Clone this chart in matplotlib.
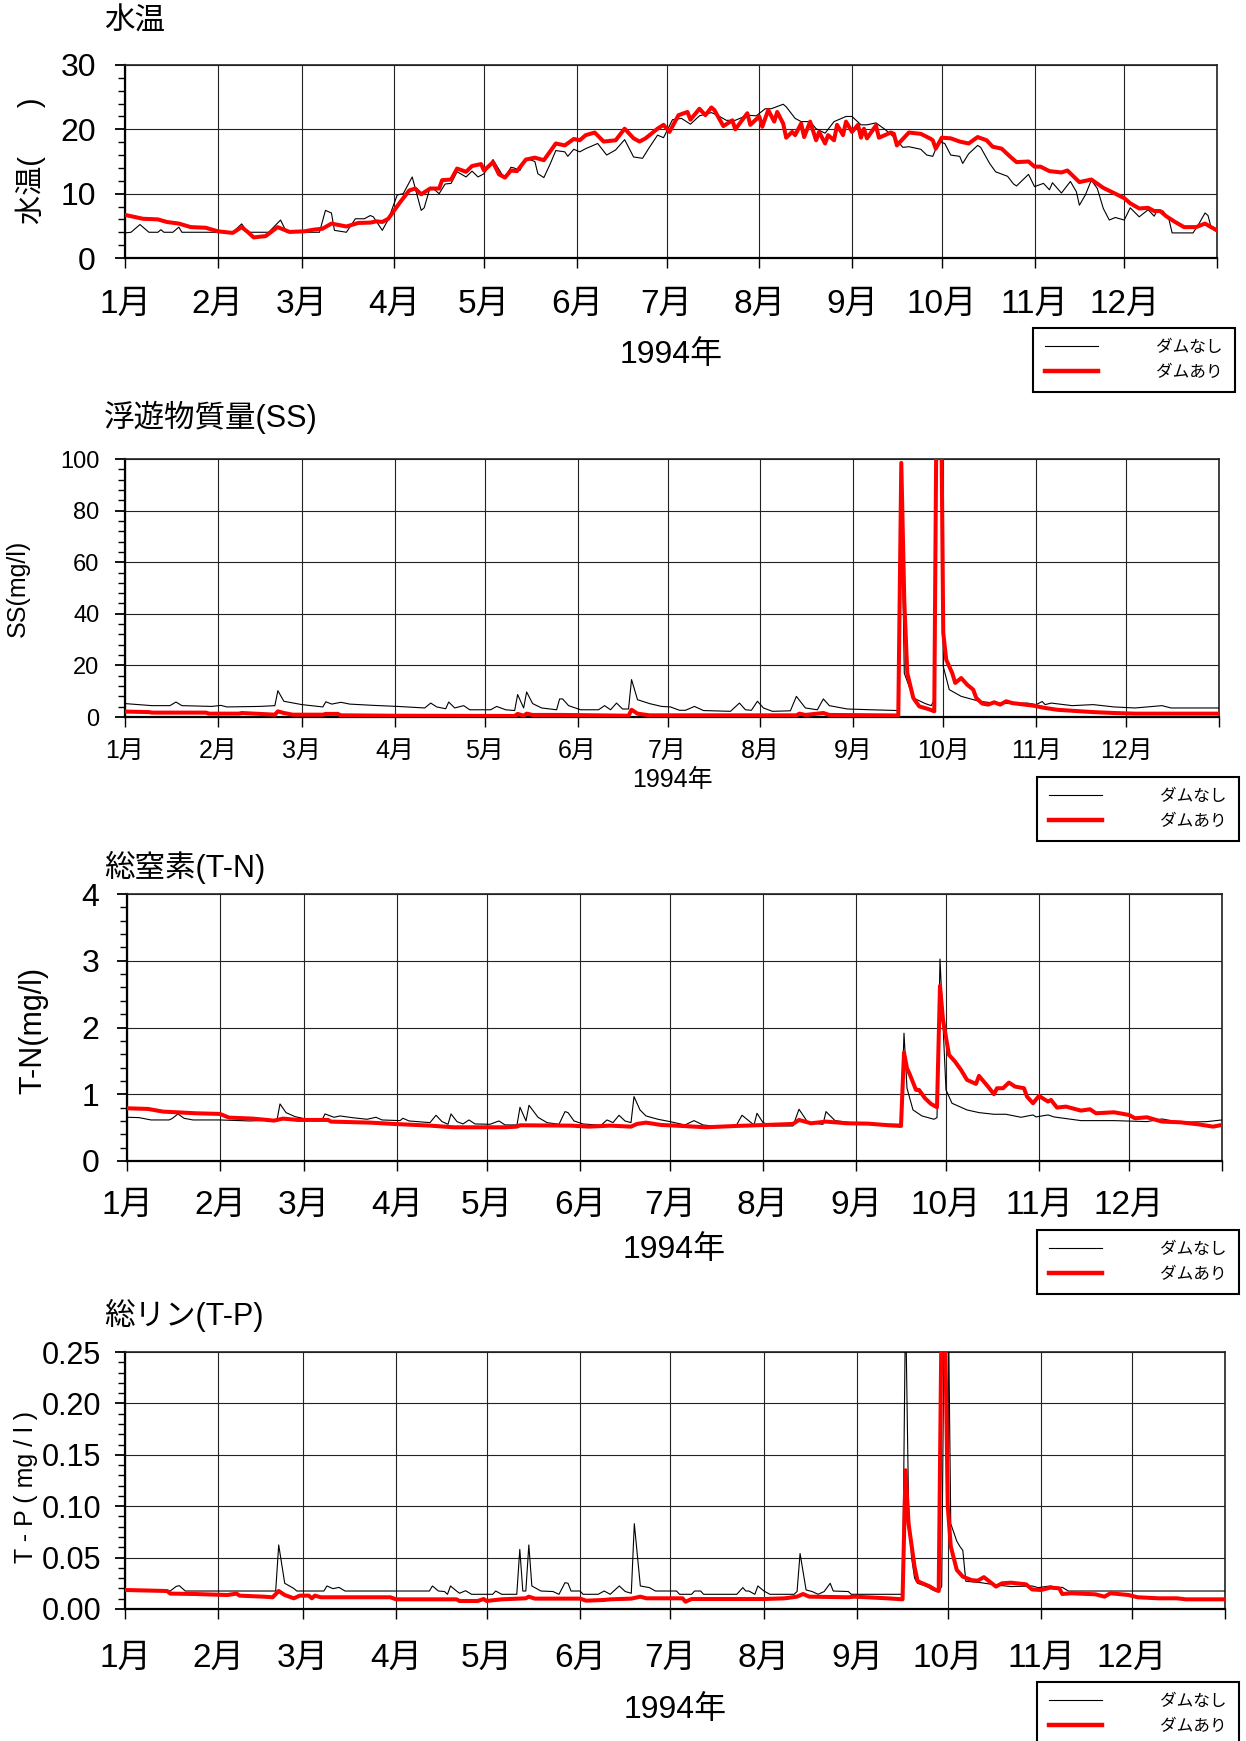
import numpy as np
import matplotlib.pyplot as plt
from matplotlib.ticker import MultipleLocator, FormatStrFormatter
from matplotlib.lines import Line2D

plt.rcParams['font.family'] = ['Liberation Sans', 'Noto Sans CJK JP']

W, H = 1246, 1741

months = ["1月", "2月", "3月", "4月", "5月", "6月",
          "7月", "8月", "9月", "10月", "11月", "12月"]
month_start = [0, 31, 59, 90, 120, 151, 181, 212, 243, 273, 304, 334]
legend_labels = ["ダムなし", "ダムあり"]

# (day of year, value)
wt_nodam = [(0, 3.9), (2, 4.0), (5, 5.2), (8, 4.0), (11, 4.0), (12, 4.4), (13, 4.0), (16, 4.0),
            (18, 4.8), (19, 4.0), (36, 4.0), (39, 5.3), (41, 4.0), (48, 4.0), (52, 5.9), (54, 4.0),
            (65, 4.0), (67, 7.4), (69, 7.0), (70, 4.3), (74, 4.0), (77, 6.1), (80, 6.1), (82, 6.6),
            (83, 6.4), (86, 4.3), (88, 6.0), (91, 9.8), (93, 10.0), (96, 12.6), (99, 7.4), (100, 7.8),
            (102, 11.0), (103, 10.8), (105, 10.0), (107, 11.5), (109, 11.6), (111, 13.4), (114, 12.6),
            (116, 13.5), (118, 12.6), (120, 13.1), (123, 15.3), (126, 13.0), (127, 12.6), (129, 14.1),
            (130, 14.0), (132, 13.6), (134, 15.5), (137, 15.0), (138, 13.1), (140, 12.5), (142, 14.5),
            (144, 16.7), (147, 16.5), (148, 15.8), (150, 16.9), (152, 16.5), (154, 17.0), (158, 17.8),
            (161, 16.0), (164, 16.8), (167, 18.4), (170, 15.7), (173, 15.5), (175, 17.0), (178, 19.1),
            (180, 18.7), (183, 21.5), (186, 21.7), (189, 20.8), (192, 22.1), (196, 22.6), (198, 22.2),
            (201, 21.4), (204, 21.4), (208, 22.2), (211, 22.1), (214, 23.2), (216, 23.2), (220, 23.9),
            (221, 23.5), (224, 21.7), (226, 21.2), (229, 21.2), (231, 20.1), (234, 19.4), (237, 21.2),
            (241, 22.0), (243, 22.0), (246, 20.7), (248, 20.7), (251, 21.0), (254, 20.0), (257, 18.8),
            (260, 17.2), (262, 17.3), (266, 16.9), (268, 16.0), (270, 15.8), (272, 18.1), (274, 17.8),
            (276, 16.0), (279, 15.8), (280, 14.7), (282, 16.2), (285, 17.5), (286, 17.2), (289, 14.7),
            (291, 13.4), (295, 12.7), (297, 11.5), (298, 11.2), (302, 13.0), (304, 11.1), (307, 11.6),
            (309, 10.6), (310, 11.7), (313, 10.1), (316, 11.9), (318, 10.3), (319, 8.2), (321, 9.8),
            (323, 12.1), (325, 10.8), (327, 7.7), (329, 5.9), (331, 6.3), (334, 5.9), (336, 7.8),
            (339, 6.4), (342, 7.5), (344, 6.5), (345, 7.4), (347, 7.3), (349, 5.9), (350, 3.9),
            (357, 3.9), (359, 5.35), (361, 7.0), (362, 6.6), (363, 4.8), (365, 4.05)]
wt_dam = [(0, 6.7), (6, 6.1), (11, 6.0), (14, 5.6), (18, 5.35), (22, 4.8), (27, 4.7), (31, 4.15),
          (36, 3.9), (39, 4.8), (41, 4.05), (43, 3.2), (47, 3.4), (51, 4.8), (55, 4.05), (60, 4.15),
          (63, 4.4), (66, 4.55), (69, 5.35), (74, 4.9), (78, 5.45), (82, 5.5), (84, 5.7), (86, 5.6),
          (88, 6.1), (92, 8.7), (95, 10.5), (97, 10.8), (99, 9.9), (102, 10.8), (105, 10.8), (106, 12.1),
          (109, 12.2), (111, 13.9), (114, 13.4), (116, 14.3), (119, 14.6), (120, 13.6), (123, 14.9),
          (125, 13.0), (127, 12.5), (129, 13.6), (131, 13.5), (134, 15.3), (137, 15.6), (140, 15.2),
          (144, 17.8), (147, 17.5), (150, 18.5), (152, 18.3), (154, 19.1), (157, 19.5), (160, 18.1),
          (164, 18.3), (167, 20.1), (170, 18.6), (172, 18.1), (174, 18.6), (178, 20.1), (180, 20.7),
          (182, 19.6), (185, 22.2), (188, 22.7), (189, 21.5), (192, 23.2), (194, 22.2), (196, 23.4),
          (197, 23.0), (200, 20.5), (203, 21.4), (204, 20.0), (208, 22.5), (209, 20.7), (212, 22.0),
          (213, 20.4), (215, 23.0), (217, 21.2), (218, 22.7), (220, 20.9), (221, 18.7), (223, 19.6),
          (224, 19.1), (226, 20.9), (227, 18.8), (229, 21.2), (231, 18.3), (232, 19.6), (234, 17.8),
          (235, 19.1), (237, 18.3), (238, 20.7), (240, 19.1), (241, 21.2), (243, 19.6), (245, 20.7),
          (246, 18.7), (247, 20.1), (248, 18.6), (251, 20.6), (252, 18.7), (256, 19.5), (257, 19.3),
          (258, 17.5), (262, 19.5), (266, 19.3), (269, 18.6), (270, 18.3), (271, 17.0), (273, 18.7),
          (276, 18.6), (279, 18.1), (282, 17.8), (285, 18.8), (288, 18.3), (290, 17.3), (293, 17.0),
          (296, 15.7), (298, 14.9), (302, 15.0), (304, 14.2), (306, 14.2), (309, 13.5), (313, 13.3),
          (315, 13.6), (319, 11.8), (323, 12.2), (327, 10.9), (331, 10.0), (334, 9.3), (336, 8.5),
          (339, 7.7), (342, 7.8), (344, 7.3), (346, 7.3), (348, 6.5), (351, 5.6), (354, 4.8),
          (358, 4.8), (361, 5.35), (363, 4.8), (365, 4.3)]

ss_nodam = [(0, 5.2), (9, 4.4), (15, 4.4), (17, 5.8), (19, 4.4), (29, 4.1), (32, 4.5), (34, 3.9),
            (45, 4.1), (50, 4.4), (51, 10.2), (53, 6.1), (59, 4.8), (66, 3.9), (67, 5.9), (69, 5.0),
            (72, 5.7), (75, 5.0), (83, 4.5), (91, 4.1), (100, 3.5), (102, 5.4), (104, 3.9), (107, 3.2),
            (108, 5.8), (110, 3.5), (113, 4.4), (115, 2.8), (122, 2.8), (124, 4.1), (127, 2.8),
            (130, 2.5), (131, 8.7), (133, 3.5), (134, 9.7), (136, 5.2), (139, 3.5), (144, 2.8),
            (145, 7.0), (146, 7.0), (148, 4.4), (152, 2.8), (158, 2.8), (160, 4.4), (162, 2.8),
            (164, 5.4), (166, 3.1), (168, 3.1), (169, 14.5), (171, 6.7), (175, 5.2), (179, 4.1),
            (182, 3.9), (185, 2.6), (187, 2.6), (190, 4.1), (193, 2.5), (202, 2.2), (205, 5.4),
            (207, 2.8), (209, 2.6), (211, 6.1), (213, 3.5), (216, 2.2), (222, 2.4), (224, 8.0),
            (227, 3.5), (231, 2.8), (233, 7.0), (235, 4.4), (241, 3.1), (249, 2.8), (258, 2.5),
            (259, 92.0), (260, 17.0), (263, 7.4), (267, 5.2), (269, 4.4), (270, 6.7), (271, 130.0),
            (272, 160.0), (273, 19.6), (275, 10.6), (279, 8.0), (285, 6.1), (290, 5.4), (296, 5.2),
            (301, 5.4), (304, 4.8), (306, 6.0), (307, 4.8), (309, 5.4), (316, 4.4), (323, 4.8),
            (330, 3.9), (337, 3.5), (346, 4.4), (349, 3.5), (365, 3.5)]
ss_dam = [(0, 2.1), (8, 1.9), (9, 1.7), (27, 1.7), (28, 1.3), (38, 1.3), (39, 1.55), (50, 0.9),
          (51, 2.2), (53, 1.55), (56, 0.9), (66, 0.9), (67, 1.2), (71, 1.2), (72, 0.65), (90, 0.5),
          (130, 0.4), (131, 1.2), (133, 0.5), (134, 1.3), (136, 0.8), (146, 0.8), (168, 0.5),
          (169, 2.8), (171, 1.3), (175, 0.65), (224, 0.65), (225, 1.3), (227, 0.8), (233, 1.55),
          (235, 0.8), (258, 0.6), (259, 98.5), (260, 45.0), (261, 17.0), (263, 7.4), (265, 4.1),
          (268, 3.1), (270, 2.2), (271, 160.0), (272, 160.0), (273, 32.6), (274, 22.2), (276, 17.0),
          (277, 13.2), (279, 15.1), (281, 12.5), (283, 10.6), (284, 7.4), (286, 5.2), (288, 4.8),
          (290, 5.7), (292, 4.8), (294, 6.1), (296, 5.4), (303, 4.4), (307, 3.5), (311, 2.8),
          (323, 1.9), (330, 1.55), (337, 1.3), (365, 1.3)]

tn_nodam = [(0, 0.655), (4, 0.65), (8, 0.615), (14, 0.615), (15, 0.635), (17, 0.705), (19, 0.64),
            (22, 0.615), (31, 0.615), (41, 0.60), (50, 0.615), (51, 0.855), (53, 0.725), (56, 0.665),
            (59, 0.635), (65, 0.615), (66, 0.705), (69, 0.655), (71, 0.675), (75, 0.65), (80, 0.625),
            (83, 0.655), (85, 0.615), (91, 0.605), (92, 0.64), (94, 0.60), (101, 0.575), (103, 0.685),
            (105, 0.59), (107, 0.55), (108, 0.705), (110, 0.59), (112, 0.555), (114, 0.615),
            (116, 0.555), (121, 0.55), (124, 0.60), (126, 0.54), (130, 0.54), (131, 0.805),
            (133, 0.60), (134, 0.835), (137, 0.655), (140, 0.575), (144, 0.55), (146, 0.74),
            (147, 0.725), (149, 0.60), (152, 0.555), (158, 0.535), (160, 0.615), (162, 0.575),
            (164, 0.685), (166, 0.60), (168, 0.575), (169, 0.965), (171, 0.765), (173, 0.675),
            (177, 0.625), (181, 0.59), (186, 0.54), (189, 0.605), (192, 0.54), (195, 0.525),
            (203, 0.525), (205, 0.685), (209, 0.54), (210, 0.715), (212, 0.575), (215, 0.525),
            (222, 0.525), (224, 0.775), (227, 0.575), (232, 0.55), (233, 0.74), (236, 0.605),
            (243, 0.565), (254, 0.55), (258, 0.55), (259, 1.915), (260, 1.09), (262, 0.765),
            (265, 0.675), (269, 0.625), (270, 0.65), (271, 3.025), (273, 1.065), (275, 0.865),
            (280, 0.765), (284, 0.725), (289, 0.70), (293, 0.70), (298, 0.655), (302, 0.69),
            (303, 0.66), (307, 0.69), (309, 0.66), (318, 0.605), (329, 0.605), (340, 0.59),
            (345, 0.63), (351, 0.58), (360, 0.59), (365, 0.615)]
tn_dam = [(0, 0.79), (7, 0.78), (12, 0.74), (23, 0.715), (31, 0.705), (34, 0.65), (42, 0.635),
          (49, 0.605), (52, 0.635), (57, 0.615), (67, 0.615), (68, 0.59), (81, 0.575), (89, 0.555),
          (101, 0.53), (109, 0.505), (126, 0.505), (130, 0.515), (131, 0.535), (148, 0.53),
          (154, 0.515), (161, 0.53), (168, 0.515), (170, 0.555), (173, 0.575), (178, 0.54),
          (185, 0.525), (193, 0.505), (203, 0.525), (213, 0.54), (222, 0.555), (224, 0.615),
          (228, 0.565), (233, 0.59), (240, 0.565), (247, 0.56), (254, 0.535), (258, 0.525),
          (259, 1.625), (260, 1.39), (261, 1.29), (263, 1.065), (264, 1.065), (266, 0.94),
          (268, 0.855), (270, 0.805), (271, 2.625), (272, 2.115), (274, 1.59), (276, 1.49),
          (278, 1.365), (280, 1.215), (283, 1.155), (284, 1.275), (287, 1.115), (289, 1.0),
          (290, 1.09), (292, 1.09), (294, 1.175), (296, 1.115), (299, 1.09), (300, 0.965),
          (302, 0.865), (304, 0.975), (307, 0.89), (308, 0.915), (310, 0.80), (313, 0.815),
          (318, 0.755), (321, 0.775), (323, 0.715), (329, 0.73), (334, 0.69), (336, 0.64),
          (340, 0.655), (345, 0.59), (351, 0.58), (357, 0.55), (362, 0.515), (365, 0.54)]

tp_nodam = [(0, 0.020), (1, 0.0185), (15, 0.0175), (17, 0.022), (18, 0.0227), (20, 0.0175),
            (50, 0.0175), (51, 0.0623), (53, 0.025), (56, 0.020), (57, 0.0175), (66, 0.0175),
            (67, 0.0224), (69, 0.0198), (71, 0.021), (73, 0.0175), (101, 0.0175), (102, 0.0224),
            (104, 0.0175), (106, 0.017), (107, 0.0143), (108, 0.0224), (110, 0.0175), (111, 0.0153),
            (113, 0.0178), (115, 0.0143), (122, 0.0143), (123, 0.0175), (125, 0.0143), (130, 0.0143),
            (131, 0.058), (132, 0.0175), (133, 0.0175), (134, 0.0623), (135, 0.0224), (138, 0.0175),
            (142, 0.017), (144, 0.0143), (146, 0.0256), (147, 0.025), (148, 0.0175), (151, 0.0175),
            (152, 0.0143), (157, 0.0143), (159, 0.0175), (161, 0.0143), (164, 0.0224), (166, 0.017),
            (168, 0.0153), (169, 0.083), (171, 0.0224), (174, 0.0208), (176, 0.0175), (183, 0.0175),
            (184, 0.0143), (188, 0.0143), (189, 0.0175), (191, 0.0175), (192, 0.0143), (203, 0.0143),
            (205, 0.0208), (206, 0.0175), (207, 0.0175), (209, 0.0143), (210, 0.0224), (212, 0.0175),
            (214, 0.0143), (222, 0.0143), (223, 0.017), (224, 0.054), (226, 0.0185), (228, 0.017),
            (230, 0.0143), (232, 0.017), (234, 0.025), (235, 0.0175), (240, 0.017), (241, 0.0143),
            (258, 0.0143), (259, 0.30), (260, 0.10), (261, 0.05), (262, 0.03), (263, 0.025),
            (266, 0.022), (268, 0.0185), (270, 0.017), (271, 0.022), (272, 0.35), (273, 0.35),
            (274, 0.083), (276, 0.066), (277, 0.061), (278, 0.057), (279, 0.027), (284, 0.0256),
            (289, 0.0234), (294, 0.0218), (301, 0.0224), (303, 0.0208), (307, 0.0224), (310, 0.0208),
            (311, 0.0211), (313, 0.0175), (365, 0.0175)]
tp_dam = [(0, 0.0185), (14, 0.0175), (15, 0.015), (23, 0.0146), (34, 0.0136), (37, 0.015),
          (38, 0.013), (46, 0.012), (49, 0.0114), (51, 0.0175), (53, 0.0136), (56, 0.0104),
          (58, 0.013), (61, 0.013), (62, 0.0104), (63, 0.013), (65, 0.0114), (88, 0.0114),
          (90, 0.0094), (110, 0.0094), (111, 0.0078), (117, 0.0078), (119, 0.0097), (120, 0.0078),
          (123, 0.0088), (125, 0.0094), (133, 0.0104), (134, 0.012), (136, 0.0101), (151, 0.0101),
          (153, 0.0081), (159, 0.0088), (161, 0.0094), (168, 0.0101), (171, 0.012), (173, 0.0104),
          (185, 0.0104), (186, 0.0071), (188, 0.0097), (212, 0.0097), (219, 0.0104), (223, 0.012),
          (225, 0.0146), (227, 0.012), (240, 0.0114), (242, 0.012), (253, 0.0104), (258, 0.0094),
          (259, 0.135), (260, 0.083), (262, 0.041), (263, 0.027), (267, 0.022), (269, 0.0185),
          (270, 0.0175), (271, 0.30), (272, 0.30), (273, 0.10), (274, 0.061), (276, 0.038),
          (278, 0.0315), (281, 0.028), (283, 0.0276), (285, 0.031), (289, 0.0218), (291, 0.025),
          (294, 0.0256), (299, 0.024), (301, 0.019), (304, 0.0185), (307, 0.0208), (310, 0.0201),
          (311, 0.0146), (314, 0.0153), (322, 0.0143), (325, 0.012), (327, 0.0153), (333, 0.0136),
          (336, 0.0114), (343, 0.0104), (349, 0.0104), (352, 0.0094), (365, 0.0094)]


def fx(x):
    return x / W


def fy(y):
    return 1 - y / H


fig = plt.figure(figsize=(W / 100, H / 100), dpi=100)

panels = [
    # box = axes (left, top, right, bottom) in px; fs = (ytick, xtick, ylabel, xlabel) sizes
    dict(nd=wt_nodam, d=wt_dam, box=(125, 65, 1217, 258), ylim=30, major=10, minor=2, fmt='%d',
         title="水温", ty=22, ylabel="水温(      )", yl=(31, 161), xl=355, leg=(1033, 328),
         fs=(23, 24, 21, 23), pads=(14, 15)),
    dict(nd=ss_nodam, d=ss_dam, box=(125, 459, 1219, 717), ylim=100, major=20, minor=4, fmt='%d',
         title="浮遊物質量(SS)", ty=417, ylabel="SS(mg/l)", yl=(18, 588), xl=780, leg=(1037, 777),
         fs=(17, 18, 18, 18), pads=(11.5, 9)),
    dict(nd=tn_nodam, d=tn_dam, box=(127, 894, 1222, 1161), ylim=4, major=1, minor=0.2, fmt='%d',
         title="総窒素(T-N)", ty=867, ylabel="T-N(mg/l)", yl=(33, 1030), xl=1250, leg=(1037, 1230),
         fs=(23, 24, 22, 23), pads=(13, 14)),
    dict(nd=tp_nodam, d=tp_dam, box=(125, 1352, 1225, 1609), ylim=0.25, major=0.05, minor=0.01,
         fmt='%.2f', title="総リン(T-P)", ty=1315, ylabel="T - P ( mg / l )", yl=(26, 1487),
         xl=1710, leg=(1037, 1682), fs=(22, 24, 18, 23), pads=(10, 17)),
]

for p in panels:
    l, t, r, b = p['box']
    ax = fig.add_axes([fx(l), fy(b), (r - l) / W, (b - t) / H])
    nd = np.array(p['nd'])
    d = np.array(p['d'])
    ax.plot(nd[:, 0], nd[:, 1], color='black', lw=0.8, zorder=3)
    ax.plot(d[:, 0], d[:, 1], color='#ff0000', lw=2.9, zorder=4, solid_joinstyle='round')

    ax.set_xlim(0, 365)
    ax.set_ylim(0, p['ylim'])
    ax.set_xticks(month_start + [365])
    ax.set_xticklabels(months + [''])
    ax.yaxis.set_major_locator(MultipleLocator(p['major']))
    ax.yaxis.set_minor_locator(MultipleLocator(p['minor']))
    ax.yaxis.set_major_formatter(FormatStrFormatter(p['fmt']))
    ax.grid(True, which='major', color='#222222', lw=0.8)
    ax.tick_params(axis='y', which='major', direction='out', length=7, width=1.3,
                   labelsize=p['fs'][0], pad=p['pads'][0])
    ax.tick_params(axis='y', which='minor', direction='out', length=5, width=1.0)
    ax.tick_params(axis='x', which='major', direction='out', length=7, width=1.0,
                   labelsize=p['fs'][1], pad=p['pads'][1])
    for s in ax.spines.values():
        s.set_linewidth(1.2)
        s.set_color('#222222')
    ax.spines['left'].set_linewidth(1.6)
    ax.spines['left'].set_color('black')
    ax.spines['bottom'].set_linewidth(1.6)
    ax.spines['bottom'].set_color('black')

    fig.text(fx(104), fy(p['ty']), p['title'], fontsize=22, ha='left', va='center')
    fig.text(fx(p['yl'][0]), fy(p['yl'][1]), p['ylabel'], fontsize=p['fs'][2], rotation=90,
             ha='center', va='center')
    fig.text(fx((l + r) / 2), fy(p['xl']), "1994年", fontsize=p['fs'][3], ha='center',
             va='center')

    handles = [Line2D([], [], color='black', lw=0.8), Line2D([], [], color='#ff0000', lw=3.2)]
    leg = fig.legend(handles, legend_labels, loc='upper left',
                     bbox_to_anchor=(fx(p['leg'][0]), fy(p['leg'][1])), borderaxespad=0,
                     frameon=True, fancybox=False, edgecolor='black', framealpha=1,
                     fontsize=12, handlelength=3.2, handletextpad=3.5, borderpad=0.7,
                     labelspacing=0.6)
    leg.get_frame().set_linewidth(1.5)

fig.savefig('out.png', dpi=100)
